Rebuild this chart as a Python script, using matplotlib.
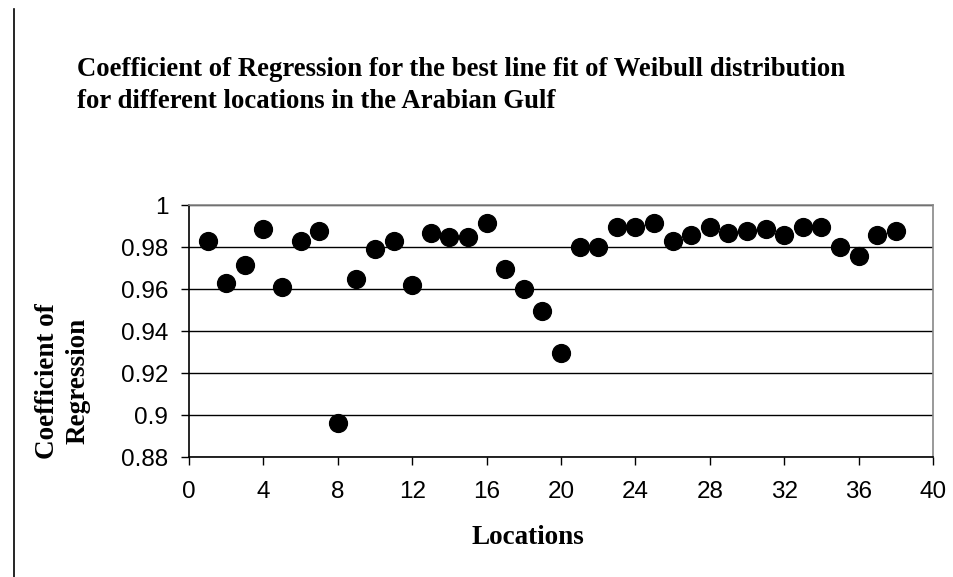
import matplotlib
matplotlib.use("Agg")
import matplotlib.pyplot as plt
from matplotlib.lines import Line2D

# location index and coefficient of regression
locations = list(range(1, 39))
coef = [0.983, 0.963, 0.9715, 0.9886, 0.961, 0.983, 0.9878, 0.8963, 0.965, 0.979,
        0.983, 0.962, 0.9868, 0.985, 0.985, 0.9916, 0.9696, 0.960, 0.9496, 0.9297,
        0.980, 0.980, 0.9897, 0.9897, 0.9916, 0.983, 0.9858, 0.9897, 0.9868, 0.9878,
        0.9887, 0.9858, 0.9897, 0.9897, 0.980, 0.9755, 0.9858, 0.9878]

xticks = list(range(0, 41, 4))
yticks = [0.88, 0.9, 0.92, 0.94, 0.96, 0.98, 1.0]
ytick_labels = ["0.88", "0.9", "0.92", "0.94", "0.96", "0.98", "1"]

W, H = 954, 577
fig = plt.figure(figsize=(W / 100, H / 100), dpi=100)
ax = fig.add_axes([189 / W, 1 - 457 / H, (933 - 189) / W, (457 - 205) / H])

ax.scatter(locations, coef, s=165, color="black", zorder=3, clip_on=False)

ax.set_xlim(0, 40)
ax.set_ylim(0.88, 1.0)
ax.set_xticks(xticks)
ax.set_yticks(yticks)
ax.set_yticklabels(ytick_labels)
for lab in ax.get_xticklabels() + ax.get_yticklabels():
    lab.set_family("Liberation Sans")
    lab.set_fontsize(17.5)
ax.tick_params(direction="out", length=6, width=1, color="black")
ax.tick_params(axis="y", pad=9)
ax.tick_params(axis="x", pad=11)

ax.grid(axis="y", color="black", linewidth=1)
ax.set_axisbelow(True)
ax.spines["left"].set_color("black")
ax.spines["bottom"].set_color("black")
ax.spines["top"].set_color("#888888")
ax.spines["right"].set_color("#888888")
for sp in ax.spines.values():
    sp.set_linewidth(1.2)

serif = dict(family="Liberation Serif", weight="bold")
fig.text(77 / W, 1 - 70 / H, "Coefficient of Regression for the best line fit of Weibull distribution",
         fontsize=19.3, va="center", ha="left", **serif)
fig.text(77 / W, 1 - 101 / H, "for different locations in the Arabian Gulf",
         fontsize=19.3, va="center", ha="left", **serif)

fig.text(63 / W, 1 - 381 / H, "Coefficient of\nRegression", rotation=90, fontsize=19.5,
         va="center", ha="center", ma="center", linespacing=1.3, **serif)
fig.text(528 / W, 1 - 537 / H, "Locations", fontsize=19.5, va="center", ha="center", **serif)

# vertical rule at the left edge of the page
fig.add_artist(Line2D([14.5 / W, 14.5 / W], [0, 1 - 9 / H], color="black", linewidth=1.2))

fig.savefig("out.png", dpi=100)
